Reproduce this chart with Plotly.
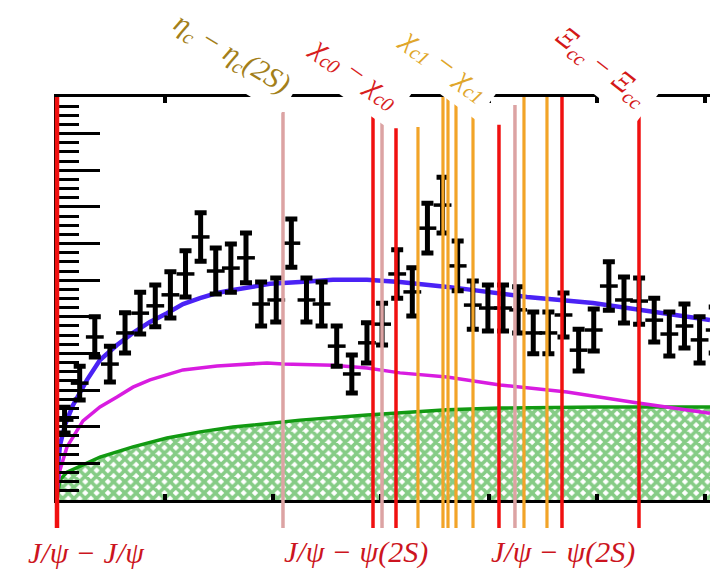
import plotly.graph_objects as go

# ---------------- data (mass in GeV, candidates per bin) ----------------
mass = [6.214, 6.242, 6.270, 6.298, 6.326, 6.354, 6.382, 6.410, 6.438, 6.466,
        6.494, 6.522, 6.550, 6.578, 6.606, 6.634, 6.662, 6.690, 6.718, 6.746,
        6.774, 6.802, 6.830, 6.858, 6.886, 6.914, 6.942, 6.970, 6.998, 7.026,
        7.054, 7.082, 7.110, 7.138, 7.166, 7.194, 7.222, 7.250, 7.278, 7.306,
        7.334, 7.362, 7.390, 7.418]
counts = [21.8, 31.9, 44.5, 37.1, 45.6, 51.0, 53.0, 56.0, 61.7, 71.8,
          62.5, 63.3, 66.1, 53.5, 54.6, 70.1, 54.6, 53.5, 42.0, 34.4,
          42.9, 48.0, 61.7, 56.8, 74.2, 80.5, 63.9, 53.2, 52.4, 52.4,
          51.9, 45.6, 45.6, 50.5, 40.9, 46.4, 58.4, 54.6, 54.3, 49.1,
          45.3, 47.5, 43.7, 46.4]
errors = [3.5, 4.6, 5.5, 4.9, 5.5, 5.7, 5.7, 6.3, 6.3, 6.6,
          6.3, 6.6, 6.8, 6.0, 6.0, 6.6, 6.0, 6.0, 5.5, 5.2,
          5.5, 5.7, 6.6, 6.6, 6.8, 7.6, 6.8, 6.6, 6.3, 6.3,
          6.3, 5.7, 5.7, 6.0, 5.7, 5.7, 6.6, 6.3, 6.3, 6.0,
          6.0, 6.0, 6.3, 6.3]

fit_x = [6.2002, 6.2009, 6.2056, 6.2148, 6.2296, 6.2426, 6.2556, 6.2796, 6.3111, 6.3407,
         6.3722, 6.4037, 6.4333, 6.4648, 6.4963, 6.5259, 6.5574, 6.5944, 6.65, 6.7111,
         6.7741, 6.8352, 6.9278, 7.0704, 7.1926, 7.2852, 7.4093]
fit_total = [3.0, 8.2, 15.0, 20.5, 25.9, 29.5, 32.8, 38.2, 42.3, 45.6,
             48.6, 51.0, 53.5, 55.1, 56.5, 57.3, 58.1, 59.0, 59.5, 60.1,
             60.1, 59.5, 58.1, 55.4, 53.8, 51.9, 49.1]

comp_x = [6.2002, 6.2009, 6.2056, 6.2185, 6.2481, 6.2796, 6.3111, 6.3407, 6.3722, 6.4037,
          6.4333, 6.4648, 6.4963, 6.5889, 6.6185, 6.7111, 6.7741, 6.8352, 6.9222, 7.0204,
          7.1444, 7.2667, 7.4093]
comp_y = [1.0, 3.3, 8.2, 14.5, 21.6, 25.4, 28.1, 30.8, 32.8, 34.1,
          35.5, 36.0, 36.6, 37.4, 37.1, 36.8, 36.0, 34.7, 33.6, 31.4,
          29.5, 26.7, 23.7]

bkg_x = [6.2004, 6.2056, 6.2185, 6.2389, 6.2796, 6.3407, 6.4037, 6.4648, 6.5259, 6.65,
         6.7741, 6.9222, 7.0204, 7.2056, 7.4093]
bkg_y = [1.1, 5.5, 7.6, 9.0, 11.7, 14.5, 16.9, 18.6, 19.9, 21.8,
         23.2, 24.6, 25.1, 25.4, 25.4]

# threshold lines
thr_mass = [6.6185, 6.7852, 6.8019, 6.8278, 6.8685, 6.9148, 6.9241, 6.9389, 6.9704,
            7.0185, 7.0481, 7.0648, 7.1074, 7.1352, 7.2778]
thr_kind = ['pink', 'red', 'pink', 'red', 'orange', 'orange', 'orange', 'orange', 'orange',
            'red', 'pink', 'orange', 'orange', 'red', 'red']
thr_top = [105.9, 105.9, 104.3, 101.5, 101.8, 110, 110, 110, 107.0,
           102.4, 107.8, 110, 110, 110, 105.1]

top_labels = ["η<sub>c</sub> − η<sub>c</sub>(2S)", "χ<sub>c0</sub> − χ<sub>c0</sub>",
              "χ<sub>c1</sub> − χ<sub>c1</sub>", "Ξ<sub>cc</sub> − Ξ<sub>cc</sub>"]
bottom_labels = ["J/ψ − J/ψ", "J/ψ − ψ(2S)", "J/ψ − ψ(2S)"]

# ---------------- styling / layout ----------------
W, H = 710, 571
X0, X1 = 6.2, 7.4093
YMAX = 110
dom_x = [57 / W, 1.0]
dom_y = [1 - 500 / H, 1 - 97 / H]
STUB = -28 / 403  # line extension below the axis, in y-domain units

colors = {'red': '#F01010', 'pink': '#DCA3A3', 'orange': '#F2A428'}
widths = {'red': 3.5, 'pink': 3.5, 'orange': 3.2}

fig = go.Figure()

fig.add_trace(go.Scatter(
    x=bkg_x, y=bkg_y, mode='lines', fill='tozeroy',
    line=dict(color='#129A12', width=3.5),
    fillcolor='white',
    fillpattern=dict(shape='x', fgcolor='#0E9A0E', bgcolor='white', size=8, solidity=0.7),
    hoverinfo='skip', showlegend=False))

fig.add_trace(go.Scatter(
    x=comp_x, y=comp_y, mode='lines',
    line=dict(color='#D81CE0', width=3.5),
    showlegend=False))

fig.add_trace(go.Scatter(
    x=fit_x, y=fit_total, mode='lines',
    line=dict(color='#4A22F5', width=4.5),
    showlegend=False))

fig.add_trace(go.Scatter(
    x=mass, y=counts, mode='markers',
    marker=dict(size=1, color='black', opacity=0),
    error_y=dict(type='data', array=errors, visible=True, color='black', thickness=5, width=6),
    error_x=dict(type='constant', value=0.0165, visible=True, color='black', thickness=3.5, width=0),
    showlegend=False))

shapes = []
for m, k, t in zip(thr_mass, thr_kind, thr_top):
    shapes.append(dict(type='line', xref='x', yref='y domain', x0=m, x1=m,
                       y0=STUB, y1=t / YMAX, layer='above',
                       line=dict(color=colors[k], width=widths[k])))
# J/psi J/psi threshold line on the left axis
shapes.append(dict(type='line', xref='x domain', yref='y domain', x0=0, x1=0,
                   y0=STUB, y1=1, layer='above', line=dict(color='#F01010', width=4.5)))

ann = []
top_pos = [(231, 54, 31, '#A37F1A'), (354, 72, 35, '#D81E1E'),
           (444, 64, 36, '#E0A62A'), (601, 66, 38, '#D41818')]
for txt, (px, py, ang, col) in zip(top_labels, top_pos):
    ann.append(dict(text=txt, x=px / W, y=1 - py / H, xref='paper', yref='paper',
                    showarrow=False, textangle=ang, xanchor='center', yanchor='middle',
                    bgcolor='white', borderpad=8,
                    font=dict(family='Liberation Serif', size=29, color=col, style='italic')))
bot_pos = [86, 356, 563]
for txt, px in zip(bottom_labels, bot_pos):
    ann.append(dict(text=txt, x=px / W, y=1 - 552 / H, xref='paper', yref='paper',
                    showarrow=False, xanchor='center', yanchor='middle', borderpad=0,
                    font=dict(family='Liberation Serif', size=30, color='#CC1420', style='italic')))

fig.update_layout(
    width=W, height=H, margin=dict(l=0, r=0, t=0, b=0),
    paper_bgcolor='white', plot_bgcolor='white',
    shapes=shapes, annotations=ann, showlegend=False,
    xaxis=dict(domain=dom_x, range=[X0, X1], showgrid=False, zeroline=False,
               showline=True, linecolor='black', linewidth=3, mirror='ticks',
               ticks='inside', tick0=6.2, dtick=0.2, ticklen=6, tickwidth=4,
               tickcolor='black', showticklabels=False),
    yaxis=dict(domain=dom_y, range=[0, YMAX], showgrid=False, zeroline=False,
               showline=True, linecolor='black', linewidth=3,
               ticks='inside', tick0=0, dtick=10, ticklen=43, tickwidth=3,
               tickcolor='black', showticklabels=False,
               minor=dict(ticks='inside', dtick=2.5, ticklen=22, tickwidth=3,
                          tickcolor='black', showgrid=False)),
)

fig.write_html("out.html")
